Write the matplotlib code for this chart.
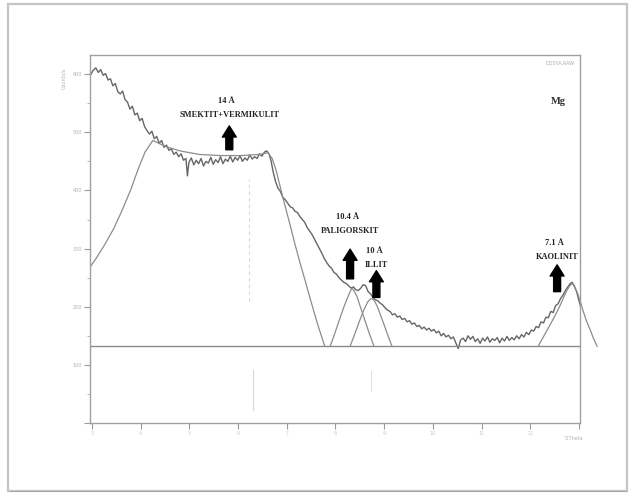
import numpy as np
import matplotlib.pyplot as plt
from matplotlib.patches import Rectangle

# ölçülen desen (°2θ, sayım)
olcum_x = [2.96, 3.02, 3.08, 3.13, 3.18, 3.23, 3.28, 3.33, 3.38, 3.43, 3.48, 3.53, 3.58, 3.63,
           3.68, 3.73, 3.78, 3.83, 3.88, 3.93, 3.98, 4.03, 4.08, 4.13, 4.18, 4.23, 4.28, 4.33,
           4.38, 4.43, 4.48, 4.53, 4.58, 4.63, 4.68, 4.73, 4.78, 4.83, 4.88, 4.93, 4.96, 4.99,
           5.04, 5.09, 5.14, 5.19, 5.24, 5.29, 5.34, 5.39, 5.44, 5.49, 5.54, 5.59, 5.64, 5.69,
           5.74, 5.79, 5.84, 5.89, 5.94, 5.99, 6.04, 6.09, 6.14, 6.19, 6.24, 6.29, 6.34, 6.39,
           6.44, 6.49, 6.54, 6.59, 6.64, 6.68, 6.72, 6.77, 6.82, 6.87, 6.92, 6.97, 7.02, 7.07,
           7.12, 7.17, 7.22, 7.27, 7.32, 7.37, 7.42, 7.47, 7.52, 7.57, 7.62, 7.67, 7.72, 7.77,
           7.82, 7.87, 7.92, 7.97, 8.02, 8.07, 8.12, 8.17, 8.22, 8.27, 8.32, 8.37, 8.42, 8.47,
           8.52, 8.57, 8.62, 8.67, 8.72, 8.77, 8.82, 8.87, 8.92, 8.97, 9.02, 9.07, 9.12, 9.17,
           9.22, 9.27, 9.32, 9.37, 9.42, 9.47, 9.52, 9.57, 9.62, 9.67, 9.72, 9.77, 9.82, 9.87,
           9.92, 9.97, 10.02, 10.07, 10.12, 10.17, 10.22, 10.27, 10.32, 10.37, 10.42, 10.47,
           10.52, 10.57, 10.62, 10.67, 10.72, 10.77, 10.82, 10.87, 10.92, 10.97, 11.02, 11.07,
           11.12, 11.17, 11.22, 11.27, 11.32, 11.37, 11.42, 11.47, 11.52, 11.57, 11.62, 11.67,
           11.72, 11.77, 11.82, 11.87, 11.92, 11.97, 12.02, 12.07, 12.12, 12.17, 12.22, 12.27,
           12.32, 12.37, 12.42, 12.47, 12.52, 12.57, 12.62, 12.67, 12.72, 12.77, 12.82, 12.86,
           12.90, 12.95, 13.00, 13.04]
olcum_y = [597, 606, 611, 603, 608, 598, 601, 590, 592, 580, 584, 570, 566, 571,
           556, 552, 540, 545, 530, 533, 520, 524, 510, 503, 497, 502, 489, 493,
           481, 486, 474, 478, 469, 472, 462, 466, 458, 463, 452, 455, 425, 448,
           456, 444, 452, 446, 455, 442, 450, 447, 457, 445, 453, 448, 458, 446,
           454, 450, 459, 449, 457, 452, 460, 450, 456, 452, 461, 454, 458, 455,
           463, 459, 466, 468, 462, 450, 432, 415, 404, 398, 388, 384, 378, 372,
           370, 364, 362, 355, 350, 345, 336, 330, 324, 316, 308, 300, 292, 283,
           276, 270, 266, 259, 256, 250, 246, 242, 240, 236, 232, 234, 229, 228,
           232, 238, 236, 226, 222, 216, 212, 210, 206, 203, 198, 194, 192, 186,
           188, 182, 184, 178, 180, 174, 176, 170, 172, 166, 168, 162, 165, 160,
           163, 158, 161, 155, 158, 150, 154, 148, 151, 145, 148, 138,
           128, 143, 146, 140, 150, 144, 149, 140, 145, 137, 146, 141,
           148, 139, 145, 142, 147, 138, 146, 141, 149, 142, 147, 143,
           150, 145, 152, 148, 156, 152, 160, 158, 166, 164, 174, 172,
           182, 181, 192, 190, 202, 205, 214, 220, 228, 234, 240, 242,
           236, 226, 210, 198]

# ayrıştırılmış pikler
smektit_x = [2.96, 3.10, 3.27, 3.45, 3.62, 3.80, 3.95, 4.09, 4.25, 4.50, 4.81, 5.20, 5.63,
             6.05, 6.45, 6.61, 6.70, 6.78, 6.86, 6.96, 7.07, 7.17, 7.27, 7.38, 7.48, 7.57,
             7.64, 7.71, 7.78]
smektit_y = [268, 285, 308, 335, 366, 402, 437, 466, 486, 476, 468, 462, 460,
             460, 462, 465, 455, 435, 408, 375, 340, 307, 276, 244, 214, 188,
             168, 150, 132]
palig_x = [7.89, 7.99, 8.09, 8.17, 8.24, 8.30, 8.34, 8.39, 8.44, 8.51, 8.59, 8.69, 8.79]
palig_y = [132, 155, 180, 199, 214, 226, 232, 226, 218, 200, 180, 155, 132]
illit_x = [8.30, 8.40, 8.50, 8.58, 8.66, 8.71, 8.75, 8.80, 8.85, 8.91, 8.98, 9.07, 9.16]
illit_y = [132, 154, 177, 194, 208, 213, 214, 210, 202, 189, 173, 152, 132]
kaolin_x = [12.16, 12.28, 12.40, 12.51, 12.61, 12.69, 12.75, 12.81, 12.86, 12.91, 12.96,
            13.02, 13.08, 13.15, 13.23, 13.30, 13.37]
kaolin_y = [132, 150, 168, 185, 202, 217, 228, 236, 240, 234, 225, 211, 194, 176, 160, 145, 132]
zemin_y = 132

# etiketler: (x, metin y, ok ucu, ok kuyruğu, d-değeri, mineral)
etiketler = [
    (5.82, 530, 511, 470, '14 Å', 'SMEKTIT+VERMIKULIT'),
    (8.30, 331, 299, 248, '10.4 Å', 'PALIGORSKIT'),
    (8.84, 271, 262, 216, '10 Å', 'ILLIT'),
    (12.55, 286, 272, 226, '7.1 Å', 'KAOLINIT'),
]

fig = plt.figure(figsize=(6.32, 4.97), dpi=100)
fig.patches.append(Rectangle((8 / 632, 6 / 497), 619 / 632, 487 / 497, transform=fig.transFigure,
                             facecolor='none', edgecolor='#c4c4c4', lw=1.6))
fig.patches.append(Rectangle((10 / 632, 5 / 497), 617 / 632, 1 / 497, transform=fig.transFigure,
                             facecolor='#a8a8a8', edgecolor='none'))

ax = fig.add_axes([90 / 632, 1 - 423 / 497, 490 / 632, 368 / 497])
ax.set_xlim(2.96, 13.02)
ax.set_ylim(0, 633)

ax.plot(olcum_x, olcum_y, color='#666666', lw=1.0)
ax.plot(smektit_x, smektit_y, color='#8c8c8c', lw=0.9)
ax.plot(palig_x, palig_y, color='#8c8c8c', lw=0.9)
ax.plot(illit_x, illit_y, color='#8c8c8c', lw=0.9)
ax.plot(kaolin_x, kaolin_y, color='#8c8c8c', lw=0.9, clip_on=False)
ax.axhline(zemin_y, color='#8a8a8a', lw=1.0)

# soluk dikey çizgiler
ax.plot([6.22, 6.22], [210, 420], color='#d8d8d8', lw=0.8, ls=(0, (3, 3)))
ax.plot([6.30, 6.30], [22, 92], color='#d8d8d8', lw=0.8)
ax.plot([8.72, 8.72], [55, 90], color='#e0e0e0', lw=0.8)

for x, ty, tip, tail, d, ad in etiketler:
    ax.annotate('', xy=(x, tip), xytext=(x, tail),
                arrowprops=dict(arrowstyle='simple,head_width=1.0,head_length=0.8,tail_width=0.5',
                                color='black', shrinkA=0, shrinkB=0))
    ax.text(x, ty, ad, ha='center', va='center', fontsize=6.0, fontweight='bold',
            family='Liberation Serif', color='#222222')
    ax.text(x - 0.05, ty + 24, d, ha='center', va='center', fontsize=6.0, fontweight='bold',
            family='Liberation Serif', color='#222222')

ax.text(0.955, 0.875, 'Mg', transform=ax.transAxes, ha='center', va='center', fontsize=7.5,
        fontweight='bold', family='Liberation Serif', color='#333333')
ax.text(0.99, 0.985, 'DOSYA.RAW', transform=ax.transAxes, ha='right', va='top', fontsize=3.5,
        color='#aaaaaa')

ax.set_xticks(range(3, 14))
ax.set_xticklabels([str(v) for v in range(3, 13)] + [''], fontsize=3.5, color='#c8c8c8')
ax.set_yticks(range(0, 700, 100))
ax.set_yticklabels(['', '100', '200', '300', '400', '500', '600'], fontsize=3.5, color='#b0b0b0')
ax.set_yticks(range(50, 650, 100), minor=True)
ax.tick_params(axis='both', which='major', length=4, width=0.8, color='#9a9a9a', pad=2)
ax.tick_params(axis='y', which='minor', length=2, width=0.6, color='#b0b0b0')
for sp in ax.spines.values():
    sp.set_color('#a0a0a0')
    sp.set_linewidth(1.0)

fig.text(64 / 632, 1 - 78 / 497, 'Counts/s', rotation=90, ha='center', va='center',
         fontsize=3.5, color='#b0b0b0')
fig.text(583 / 632, 1 - 439 / 497, '°2Theta', ha='right', va='center', fontsize=3.5,
         color='#b0b0b0')

fig.savefig('out.png', dpi=100)
